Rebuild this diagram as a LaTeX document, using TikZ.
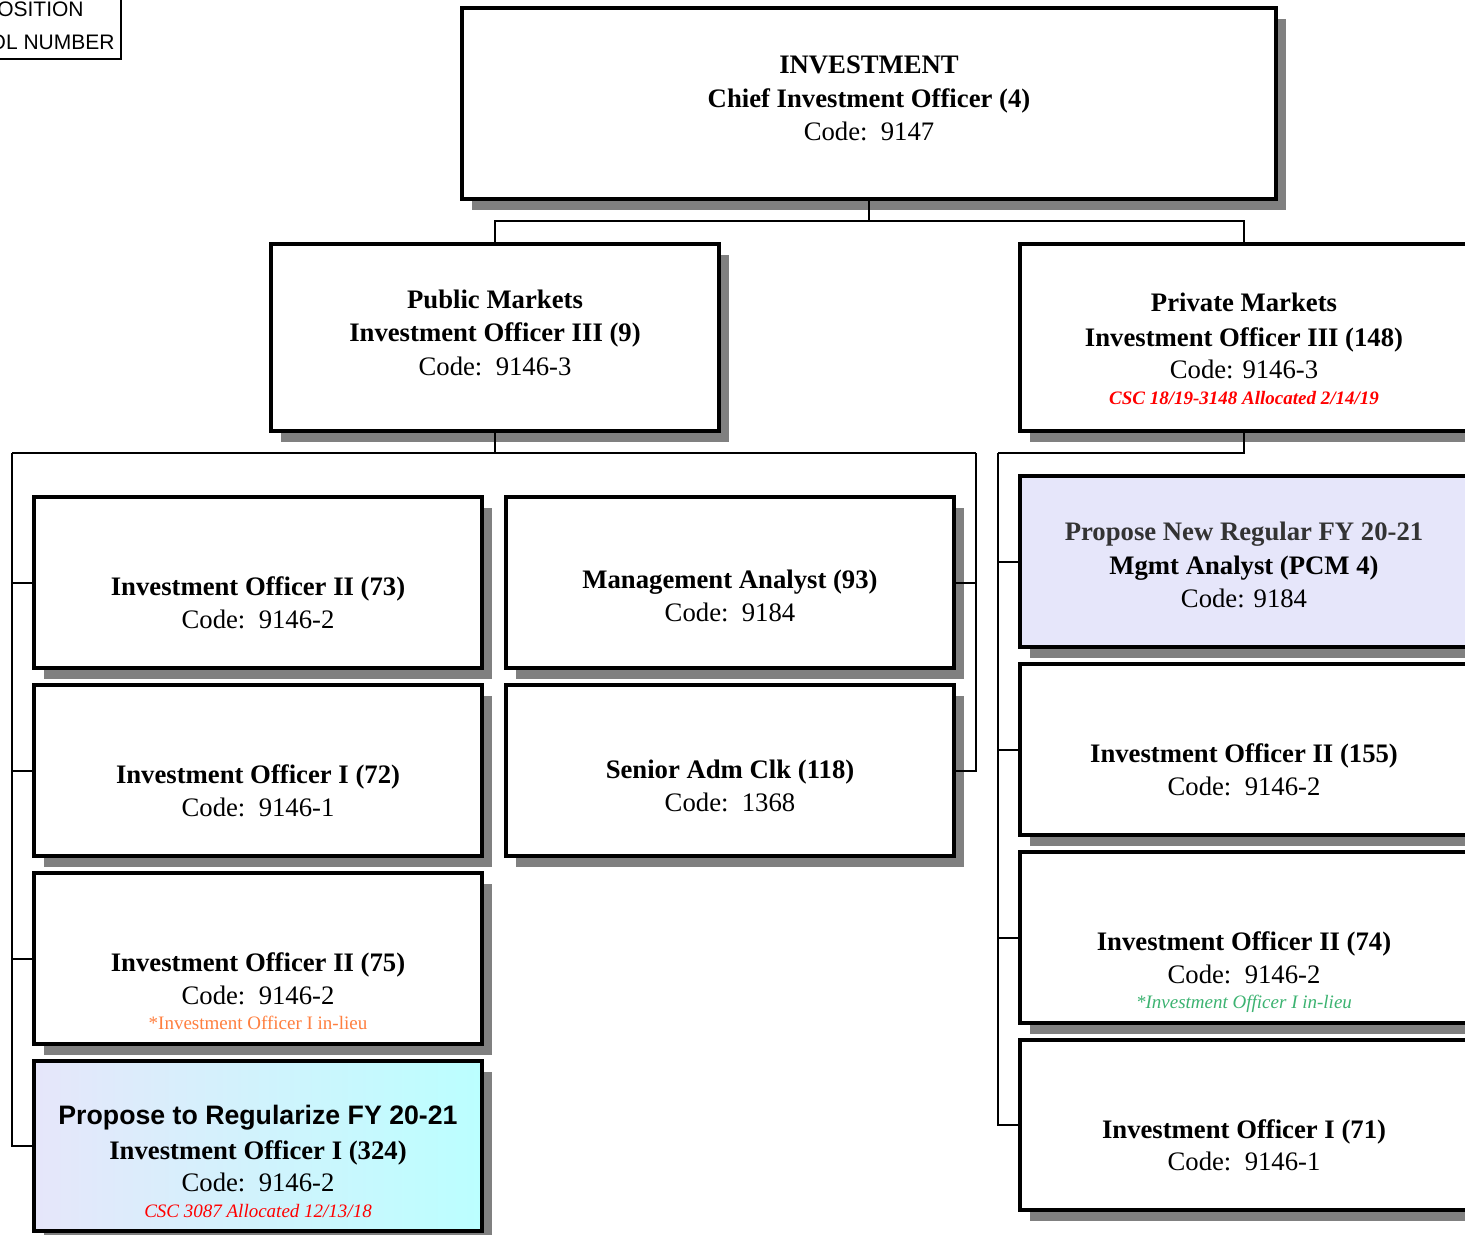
\documentclass[tikz,border=0pt]{standalone}
\usepackage{fontspec}
\setmainfont{Liberation Serif}
\newfontfamily\arialfont{Liberation Sans}
\usetikzlibrary{shadows}

\definecolor{shadowgray}{HTML}{808080}
\definecolor{lavender}{HTML}{E6E6FA}
\definecolor{paleaqua}{HTML}{BBFFFF}
\definecolor{noteorange}{HTML}{FF7F3F}
\definecolor{notegreen}{HTML}{3CB371}
\definecolor{notered}{HTML}{FF0000}
\definecolor{dimtext}{HTML}{333333}

\tikzset{
  orgbox/.style={draw=black, line width=2pt, fill=white, inner sep=0pt,
    drop shadow={shadow xshift=5pt, shadow yshift=-5.5pt, fill=shadowgray, opacity=1}},
  boxwide/.style={minimum width=224pt, minimum height=85.5pt},
  boxtall/.style={minimum width=224pt, minimum height=93.5pt},
  connector/.style={draw=black, line width=1pt},
  jobtitle/.style={anchor=base, inner sep=0pt, font=\fontsize{13.35pt}{16pt}\selectfont\bfseries},
  jobcode/.style={anchor=base, inner sep=0pt, font=\fontsize{13.35pt}{16pt}\selectfont},
  jobnote/.style={anchor=base, inner sep=0pt, font=\fontsize{9.5pt}{11pt}\selectfont},
  legendtext/.style={anchor=base east, inner sep=0pt, font=\arialfont\fontsize{10.5pt}{12pt}\selectfont},
}

\begin{document}
\begin{tikzpicture}[x=0.5pt, y=-0.5pt]
\useasboundingbox (0,0) rectangle (1465,1235);

% legend box in the corner
\node[draw=black, line width=1.2pt, fill=white, minimum width=80pt, minimum height=40pt, anchor=south east] (legend) at (122,60) {};
\node[legendtext] (legendA) at (84,17) {OSITION};
\node[legendtext] (legendB) at (115,50) {OL NUMBER};

% boxes
\node[orgbox, minimum width=407pt, minimum height=95.5pt] (ceo) at (869,103.5) {};
\node[orgbox, boxtall] (pub) at (495,337.5) {};
\node[orgbox, boxtall] (priv) at (1244,337.5) {};

\node[orgbox, boxwide] (a1) at (258,582.5) {};
\node[orgbox, boxwide] (a2) at (258,770.5) {};
\node[orgbox, boxwide] (a3) at (258,958.5) {};
\node[orgbox, boxwide, minimum height=85pt, left color=lavender, right color=paleaqua] (a4) at (258,1146) {};

\node[orgbox, boxwide] (m1) at (730,582.5) {};
\node[orgbox, boxwide] (m2) at (730,770.5) {};

\node[orgbox, boxwide, fill=lavender] (r1) at (1244,561.5) {};
\node[orgbox, boxwide] (r2) at (1244,749.5) {};
\node[orgbox, boxwide] (r3) at (1244,937.5) {};
\node[orgbox, boxwide, minimum height=85pt] (r4) at (1244,1125) {};

% connectors
\coordinate (tj) at (869,221);
\coordinate (lbus) at (12,453);
\coordinate (mbus) at (976,453);
\coordinate (rbus) at (998,453);

\draw[connector] (ceo.south) -- (tj);
\draw[connector] (pub.north) |- (tj) -| (priv.north);

\draw[connector] (pub.south) -- (pub.south |- lbus);
\draw[connector] (lbus) -- (mbus);
\draw[connector] (lbus) |- (a1.west);
\draw[connector] (lbus) |- (a2.west);
\draw[connector] (lbus) |- (a3.west);
\draw[connector] (lbus) |- (a4.west);
\draw[connector] (mbus) |- (m1.east);
\draw[connector] (mbus) |- (m2.east);

\draw[connector] (priv.south) |- (rbus);
\draw[connector] (rbus) |- (r1.west);
\draw[connector] (rbus) |- (r2.west);
\draw[connector] (rbus) |- (r3.west);
\draw[connector] (rbus) |- (r4.west);

% texts
\node[jobtitle] (ceoA) at (869,74) {INVESTMENT};
\node[jobtitle] (ceoB) at (869,108) {Chief Investment Officer (4)};
\node[jobcode]  (ceoC) at (869,141) {Code:\ \ 9147};

\node[jobtitle] (pubA) at (495,308) {Public Markets};
\node[jobtitle] (pubB) at (495,342) {Investment Officer III (9)};
\node[jobcode]  (pubC) at (495,375) {Code:\ \ 9146-3};

\node[jobtitle] (privA) at (1244,312) {Private Markets};
\node[jobtitle] (privB) at (1244,346) {Investment Officer III (148)};
\node[jobcode]  (privC) at (1244,379) {Code: 9146-3};
\node[jobnote, text=notered, font=\fontsize{9.5pt}{11pt}\selectfont\bfseries\itshape] (privD) at (1244,404) {CSC 18/19-3148 Allocated 2/14/19};

\node[jobtitle] (a1A) at (258,595) {Investment Officer II (73)};
\node[jobcode]  (a1B) at (258,628) {Code:\ \ 9146-2};

\node[jobtitle] (a2A) at (258,783) {Investment Officer I (72)};
\node[jobcode]  (a2B) at (258,816) {Code:\ \ 9146-1};

\node[jobtitle] (a3A) at (258,971) {Investment Officer II (75)};
\node[jobcode]  (a3B) at (258,1004) {Code:\ \ 9146-2};
\node[jobnote, text=noteorange] (a3C) at (258,1029) {*Investment Officer I in-lieu};

\node[jobtitle, font=\arialfont\fontsize{13.35pt}{16pt}\selectfont\bfseries] (a4A) at (258,1124) {Propose to Regularize FY 20-21};
\node[jobtitle] (a4B) at (258,1159) {Investment Officer I (324)};
\node[jobcode]  (a4C) at (258,1191) {Code:\ \ 9146-2};
\node[jobnote, text=notered, font=\fontsize{9.5pt}{11pt}\selectfont\itshape] (a4D) at (258,1217) {CSC 3087 Allocated 12/13/18};

\node[jobtitle] (m1A) at (730,588) {Management Analyst (93)};
\node[jobcode]  (m1B) at (730,621) {Code:\ \ 9184};

\node[jobtitle] (m2A) at (730,778) {Senior Adm Clk (118)};
\node[jobcode]  (m2B) at (730,811) {Code:\ \ 1368};

\node[jobtitle, text=dimtext] (r1A) at (1244,540) {Propose New Regular FY 20-21};
\node[jobtitle] (r1B) at (1244,574) {Mgmt Analyst (PCM 4)};
\node[jobcode]  (r1C) at (1244,607) {Code: 9184};

\node[jobtitle] (r2A) at (1244,762) {Investment Officer II (155)};
\node[jobcode]  (r2B) at (1244,795) {Code:\ \ 9146-2};

\node[jobtitle] (r3A) at (1244,950) {Investment Officer II (74)};
\node[jobcode]  (r3B) at (1244,983) {Code:\ \ 9146-2};
\node[jobnote, text=notegreen, font=\fontsize{9.5pt}{11pt}\selectfont\itshape] (r3C) at (1244,1008) {*Investment Officer I in-lieu};

\node[jobtitle] (r4A) at (1244,1138) {Investment Officer I (71)};
\node[jobcode]  (r4B) at (1244,1170) {Code:\ \ 9146-1};
\end{tikzpicture}
\end{document}
